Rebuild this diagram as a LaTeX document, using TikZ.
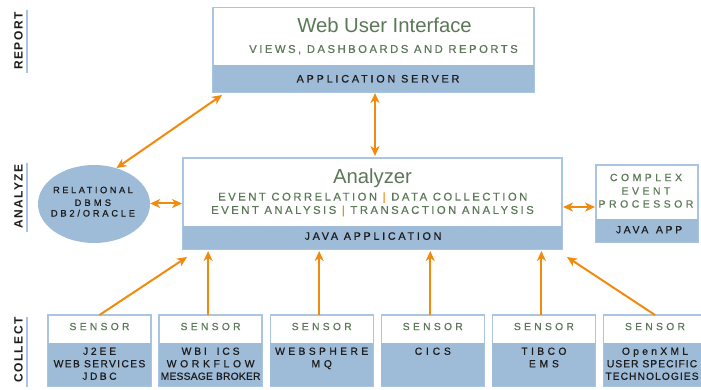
\documentclass[tikz,border=0pt]{standalone}
\usepackage{fontspec}
\setmainfont{Liberation Sans}
\usetikzlibrary{arrows.meta,shapes.geometric,calc}
\definecolor{boxblue}{HTML}{9EBBD8}
\definecolor{edgeblue}{HTML}{A9C5E1}
\definecolor{txtgreen}{HTML}{5C7858}
\definecolor{arr}{HTML}{F28A0E}
\definecolor{ink}{HTML}{1C1C1C}
\newcommand\fs[1]{\fontsize{#1}{#1}\selectfont}
\newcommand\ls[1]{\addfontfeature{LetterSpace=#1}}
\newcommand\fb[1]{\addfontfeature{FakeBold=#1}}
\begin{document}
\begin{tikzpicture}[x=1pt,y=-1pt,
  frame/.style={draw=edgeblue, line width=1.3pt, fill=white, anchor=north west, inner sep=0pt, outer sep=0pt},
  band/.style={fill=boxblue, anchor=north west, inner sep=0pt, outer sep=0pt},
  txt/.style={inner sep=0pt, anchor=base},
  gtxt/.style={txt, text=txtgreen},
  dtxt/.style={txt, text=ink},
  both/.style={arr, line width=2pt, {Stealth[length=10pt,width=9pt,inset=3pt]}-{Stealth[length=10pt,width=9pt,inset=3pt]}},
  up/.style={arr, line width=2pt, -{Stealth[length=10pt,width=9pt,inset=3pt]}},
  side/.style={inner sep=0pt, rotate=90, text=ink, font=\bfseries\fs{12}\ls{12}},
  sidebar/.style={edgeblue, line width=2pt},
  sensorbox/.style={frame, minimum width=103pt, minimum height=71pt},
  sensorband/.style={band, minimum width=103pt, minimum height=43pt},
  sensorlbl/.style={gtxt, font=\fs{10.3}\fb{0.4}\ls{32}},
  sensordesc/.style={dtxt, font=\fs{10.3}\fb{0.6}\ls{#1}},
]
\useasboundingbox (0,0) rectangle (701,390);

% side labels
\node[side] (lreport) at (18.5,41) {REPORT};
\draw[sidebar] (27,10) -- (27,72.7);
\node[side] (lanalyze) at (18.5,196.5) {ANALYZE};
\draw[sidebar] (27,162.7) -- (27,231.7);
\node[side] (lcollect) at (18.5,350) {COLLECT};
\draw[sidebar] (27,317) -- (27,387);

% Web user interface
\node[frame, minimum width=321pt, minimum height=84.5pt] (web) at (213,7.5) {};
\node[band, minimum width=321pt, minimum height=27pt] (webband) at (213,65) {};
\node[gtxt, font=\fs{20.3}] (webtitle) at (384.5,32.7) {Web User Interface};
\node[gtxt, font=\fs{11.3}\fb{0.4}\ls{22}] (websub) at (383.5,52.9) {VIEWS, DASHBOARDS AND REPORTS};
\node[dtxt, font=\fs{10.8}\fb{0.6}\ls{26}] (webapp) at (378,82.5) {APPLICATION SERVER};

% Analyzer
\node[frame, minimum width=379pt, minimum height=91pt] (an) at (183,158) {};
\node[band, minimum width=379pt, minimum height=23pt] (anband) at (183,226) {};
\node[gtxt, font=\fs{20.3}] (antitle) at (372.5,183.2) {Analyzer};
\node[gtxt, font=\fs{11.3}\fb{0.4}\ls{22}] (anl1) at (372.8,200.6) {EVENT CORRELATION \textcolor{arr}{|} DATA COLLECTION};
\node[gtxt, font=\fs{11.3}\fb{0.4}\ls{22}] (anl2) at (372.5,213.9) {EVENT ANALYSIS \textcolor{arr}{|} TRANSACTION ANALYSIS};
\node[dtxt, font=\fs{10.8}\fb{0.6}\ls{25}] (anapp) at (373,239.8) {JAVA APPLICATION};

% Complex event processor
\node[frame, minimum width=102pt, minimum height=77pt] (cep) at (596,165) {};
\node[band, minimum width=102pt, minimum height=23pt] (cepband) at (596,219) {};
\node[gtxt, font=\fs{10.5}\fb{0.4}\ls{33}] (cep1) at (646,181.1) {COMPLEX};
\node[gtxt, font=\fs{10.5}\fb{0.4}\ls{33}] (cep2) at (646,194.6) {EVENT};
\node[gtxt, font=\fs{10.5}\fb{0.4}\ls{33}] (cep3) at (646,207.6) {PROCESSOR};
\node[dtxt, font=\fs{10.5}\fb{0.6}\ls{25}] (cep4) at (649,233.3) {JAVA\hspace{2pt} APP};

% Relational DBMS
\node[ellipse, fill=boxblue, minimum width=112pt, minimum height=78pt, inner sep=0pt] (db) at (94,204) {};
\node[dtxt, font=\fs{9.3}\fb{0.6}\ls{27}] (db1) at (93,193.2) {RELATIONAL};
\node[dtxt, font=\fs{9.3}\fb{0.6}\ls{34}] (db2) at (92.8,205.9) {DBMS};
\node[dtxt, font=\fs{9.3}\fb{0.6}\ls{30}] (db3) at (93,216.5) {DB2/ORACLE};

% Sensors
\foreach \i/\x in {1/48,2/159.1,3/270.2,4/381.3,5/492.4,6/603.5}{
  \node[sensorbox] (s\i) at (\x,315) {};
  \node[sensorband] (sb\i) at (\x,343) {};
  \node[sensorlbl] (sl\i) at (\x+51.5,330.1) {SENSOR};
}
\node[sensordesc=28] (d11) at (99.5,354.8) {J2EE};
\node[sensordesc=13] (d12) at (99.5,367.3) {WEB SERVICES};
\node[sensordesc=24] (d13) at (99.5,379.8) {JDBC};
\node[sensordesc=28] (d21) at (210.6,354.8) {WBI\hspace{4pt} ICS};
\node[sensordesc=36] (d22) at (210.6,367.3) {WORKFLOW};
\node[sensordesc=2] (d23) at (210.6,379.8) {MESSAGE BROKER};
\node[sensordesc=33] (d31) at (321.7,354.8) {WEBSPHERE};
\node[sensordesc=37] (d32) at (321.7,367.3) {MQ};
\node[sensordesc=37] (d41) at (432.8,354.8) {CICS};
\node[sensordesc=33] (d51) at (543.9,354.8) {TIBCO};
\node[sensordesc=37] (d52) at (543.9,367.3) {EMS};
\node[sensordesc=32] (d61) at (655,354.8) {OpenXML};
\node[sensordesc=10] (d62) at (652,367.3) {USER SPECIFIC};
\node[sensordesc=10] (d63) at (652,379.8) {TECHNOLOGIES};

% connectors
\draw[both] ($(web.south west)+(9,3)$) -- (db.58);
\draw[both] ($(webband.south)+(1.5,1)$) -- ($(an.north)+(2.5,-2)$);
\draw[both] ($(db.east)+(0,-0.5)$) -- ($(an.west)+(-1,0)$);
\draw[both] ($(an.east)+(1,3.5)$) -- ($(cep.west)+(-1,3.5)$);
\draw[up] (s1.north) -- ($(an.south west)+(4,8)$);
\foreach \i in {2,3,4,5}{
  \draw[up] ([xshift=-2.5pt]s\i.north) -- ([xshift=-2.5pt,yshift=-2pt]s\i.north |- an.south);
}
\draw[up] (s6.north) -- ($(an.south east)+(5,8)$);
\end{tikzpicture}
\end{document}
